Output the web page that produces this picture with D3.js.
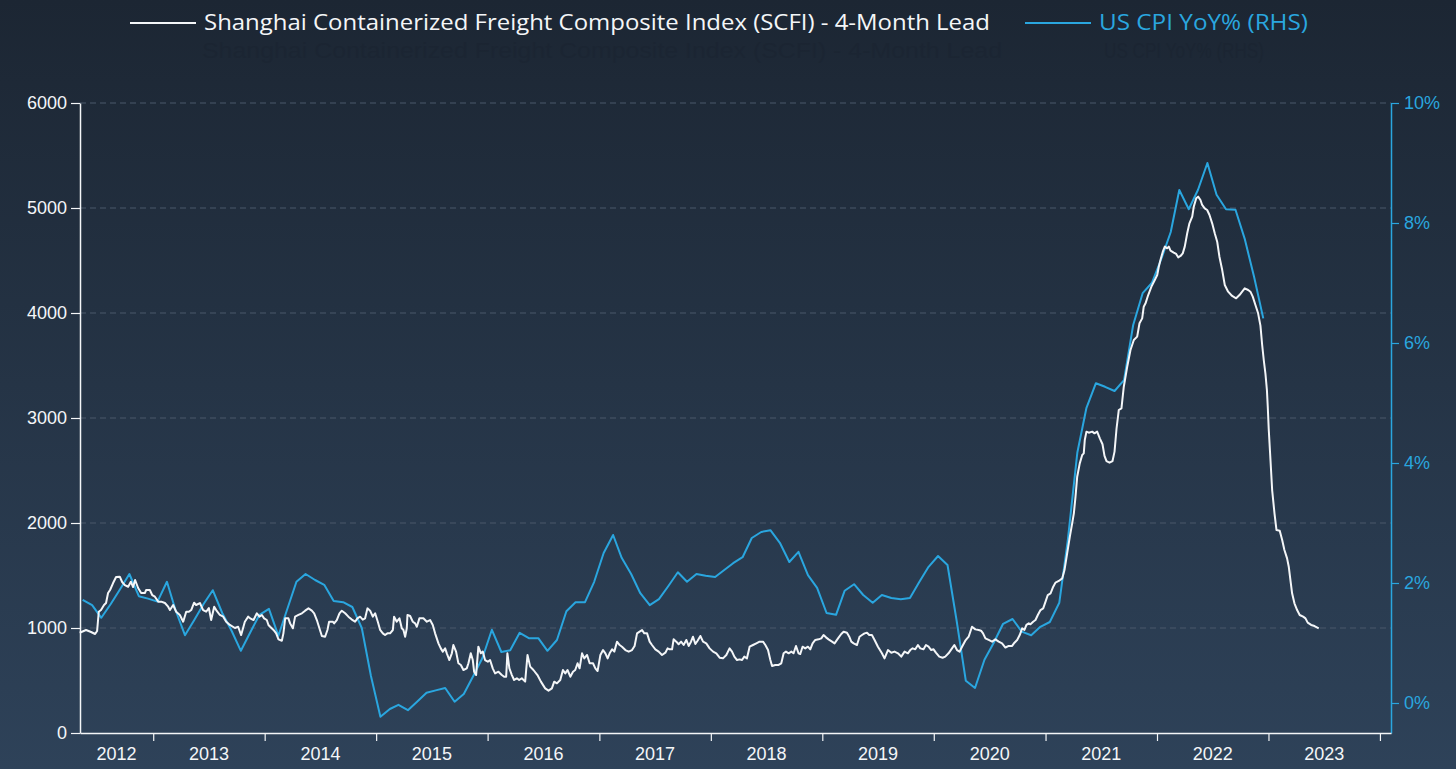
<!DOCTYPE html>
<html><head><meta charset="utf-8">
<script src="https://cdn.jsdelivr.net/npm/d3@7"></script>
<style>html,body{margin:0;padding:0;background:#1e2937;overflow:hidden}</style>
</head><body><svg id="c" width="1456" height="769"></svg>
<script>
// ---------------- DATA ----------------
const legendLabels = ["Shanghai Containerized Freight Composite Index (SCFI) - 4-Month Lead", "US CPI YoY% (RHS)"];
const yearLabels = ["2012","2013","2014","2015","2016","2017","2018","2019","2020","2021","2022","2023"];
const leftTicks = [0,1000,2000,3000,4000,5000,6000];
const rightTicks = [0,2,4,6,8,10];

// US CPI YoY %, monthly, May 2012 .. Dec 2022
const cpiStartMonth = "2012-05";
const cpiValues = [
  1.72,1.63,1.42,1.65,1.9,2.15,1.78,1.74,                 // 2012 May-Dec
  1.69,2.02,1.55,1.13,1.38,1.65,1.88,1.5,1.2,0.87,1.18,1.47, // 2013
  1.57,1.12,1.55,2.02,2.15,2.05,1.97,1.7,1.68,1.6,1.25,0.45, // 2014
  -0.23,-0.1,-0.03,-0.12,0.02,0.17,0.21,0.25,0.02,0.15,0.45,0.75, // 2015
  1.22,0.85,0.88,1.17,1.08,1.08,0.87,1.05,1.53,1.68,1.68,2.02, // 2016
  2.5,2.8,2.42,2.15,1.83,1.63,1.73,1.95,2.18,2.02,2.15,2.12,   // 2017
  2.1,2.22,2.33,2.43,2.75,2.85,2.88,2.67,2.35,2.52,2.13,1.92,  // 2018
  1.5,1.47,1.87,1.98,1.8,1.67,1.8,1.75,1.73,1.75,2.02,2.27,    // 2019
  2.45,2.3,1.4,0.37,0.25,0.72,1.0,1.32,1.4,1.19,1.13,1.27,     // 2020
  1.35,1.67,2.72,4.17,4.92,5.33,5.27,5.2,5.38,6.3,6.83,7.0,    // 2021
  7.4,7.85,8.55,8.23,8.55,9.0,8.47,8.23,8.22,7.74,7.1,6.41     // 2022
];

// SCFI (shifted 4 months forward): [decimal year, index value]
const scfiPoints = [
[2012.342,955],[2012.399,981],[2012.444,962],[2012.480,943],[2012.498,971],[2012.513,1155],[2012.533,1171],[2012.560,1219],[2012.578,1238],[2012.596,1333],[2012.614,1362],[2012.641,1428],[2012.668,1486],[2012.701,1489],[2012.722,1438],[2012.746,1409],[2012.776,1393],[2012.800,1441],[2012.820,1390],[2012.838,1457],[2012.865,1381],[2012.892,1333],[2012.925,1333],[2012.937,1362],[2012.970,1362],[2012.991,1314],
[2013.015,1298],[2013.045,1251],[2013.072,1251],[2013.105,1238],[2013.134,1203],[2013.150,1171],[2013.179,1219],[2013.206,1155],[2013.239,1124],[2013.269,1060],[2013.296,1155],[2013.320,1155],[2013.341,1171],[2013.367,1241],[2013.385,1219],[2013.419,1238],[2013.448,1171],[2013.475,1155],[2013.499,1190],[2013.520,1076],[2013.547,1203],[2013.565,1171],[2013.598,1124],[2013.628,1108],[2013.655,1060],[2013.688,1029],[2013.733,1000],[2013.762,1012],[2013.789,933],[2013.822,1060],[2013.852,1108],[2013.870,1092],[2013.900,1076],[2013.930,1140],[2013.953,1108],[2013.975,1124],[2013.995,1092],
[2014.019,1076],[2014.034,1029],[2014.049,1012],[2014.079,981],[2014.103,949],[2014.124,892],[2014.154,879],[2014.168,949],[2014.184,1092],[2014.213,1092],[2014.228,1044],[2014.253,997],[2014.273,1108],[2014.303,1124],[2014.334,1140],[2014.363,1165],[2014.393,1187],[2014.423,1165],[2014.444,1140],[2014.468,1076],[2014.491,997],[2014.513,924],[2014.542,917],[2014.563,981],[2014.578,1060],[2014.611,1060],[2014.623,1044],[2014.647,1076],[2014.671,1140],[2014.692,1165],[2014.722,1140],[2014.751,1108],[2014.782,1080],[2014.811,1060],[2014.832,1092],[2014.856,1108],[2014.880,1080],[2014.901,1092],[2014.922,1187],[2014.946,1165],[2014.970,1108],[2014.991,1140],
[2015.015,1060],[2015.036,981],[2015.060,949],[2015.080,933],[2015.101,949],[2015.125,949],[2015.150,981],[2015.161,1108],[2015.185,1060],[2015.209,1092],[2015.230,997],[2015.245,981],[2015.260,917],[2015.275,997],[2015.281,1124],[2015.305,1114],[2015.329,1060],[2015.350,1044],[2015.365,1012],[2015.388,1092],[2015.424,1092],[2015.455,1060],[2015.484,1076],[2015.508,1029],[2015.529,949],[2015.559,854],[2015.580,806],[2015.598,775],[2015.619,806],[2015.634,759],[2015.657,695],[2015.679,759],[2015.693,838],[2015.717,775],[2015.738,664],[2015.760,648],[2015.783,600],[2015.813,616],[2015.828,664],[2015.849,759],[2015.867,695],[2015.879,584],[2015.897,552],[2015.917,822],[2015.939,759],[2015.957,775],[2015.977,695],
[2016.002,679],[2016.022,695],[2016.046,616],[2016.067,568],[2016.097,584],[2016.127,552],[2016.148,536],[2016.166,536],[2016.177,759],[2016.195,616],[2016.217,552],[2016.237,505],[2016.262,521],[2016.282,505],[2016.306,521],[2016.336,489],[2016.357,743],[2016.381,632],[2016.410,600],[2016.446,552],[2016.477,489],[2016.515,425],[2016.545,403],[2016.575,425],[2016.596,489],[2016.620,473],[2016.650,505],[2016.674,600],[2016.695,568],[2016.715,600],[2016.740,536],[2016.764,584],[2016.784,600],[2016.805,664],[2016.823,616],[2016.845,759],[2016.865,711],[2016.890,743],[2016.913,664],[2016.943,664],[2016.964,616],[2016.984,590],
[2017.009,743],[2017.033,790],[2017.054,759],[2017.074,711],[2017.092,759],[2017.114,797],[2017.134,775],[2017.158,870],[2017.182,838],[2017.203,822],[2017.233,790],[2017.263,775],[2017.293,790],[2017.316,829],[2017.338,949],[2017.361,965],[2017.383,981],[2017.403,949],[2017.428,949],[2017.451,870],[2017.472,838],[2017.502,797],[2017.532,775],[2017.562,743],[2017.592,765],[2017.612,806],[2017.630,797],[2017.652,797],[2017.666,892],[2017.690,870],[2017.711,845],[2017.733,870],[2017.756,838],[2017.780,886],[2017.801,829],[2017.822,870],[2017.840,917],[2017.861,848],[2017.881,879],[2017.906,924],[2017.930,870],[2017.959,854],[2017.989,806],
[2018.020,775],[2018.049,759],[2018.079,717],[2018.109,711],[2018.139,743],[2018.168,806],[2018.190,775],[2018.211,727],[2018.235,695],[2018.258,701],[2018.280,695],[2018.300,727],[2018.324,711],[2018.348,822],[2018.378,838],[2018.408,854],[2018.437,870],[2018.468,870],[2018.489,838],[2018.513,790],[2018.534,695],[2018.549,638],[2018.578,648],[2018.608,648],[2018.632,664],[2018.653,759],[2018.674,775],[2018.698,759],[2018.722,775],[2018.742,759],[2018.764,829],[2018.787,759],[2018.802,752],[2018.823,822],[2018.847,806],[2018.871,822],[2018.892,797],[2018.913,854],[2018.937,886],[2018.967,892],[2018.991,901],
[2019.011,933],[2019.033,911],[2019.056,892],[2019.087,870],[2019.110,854],[2019.141,901],[2019.170,943],[2019.191,965],[2019.221,955],[2019.242,917],[2019.260,870],[2019.281,854],[2019.311,838],[2019.334,917],[2019.356,933],[2019.379,949],[2019.401,955],[2019.421,933],[2019.445,933],[2019.469,886],[2019.499,822],[2019.535,759],[2019.558,711],[2019.589,790],[2019.619,765],[2019.648,775],[2019.679,759],[2019.708,727],[2019.738,775],[2019.768,759],[2019.789,790],[2019.810,806],[2019.834,797],[2019.858,838],[2019.879,806],[2019.908,797],[2019.930,838],[2019.953,822],[2019.977,790],[2019.998,797],
[2020.019,765],[2020.049,727],[2020.079,717],[2020.103,727],[2020.132,759],[2020.163,806],[2020.184,838],[2020.208,790],[2020.231,775],[2020.253,822],[2020.282,879],[2020.312,917],[2020.342,1012],[2020.372,987],[2020.402,981],[2020.423,974],[2020.441,949],[2020.462,901],[2020.491,886],[2020.522,870],[2020.551,892],[2020.581,870],[2020.611,854],[2020.641,814],[2020.671,829],[2020.701,829],[2020.722,860],[2020.746,886],[2020.769,933],[2020.791,997],[2020.811,981],[2020.829,1029],[2020.850,1044],[2020.865,1035],[2020.889,1060],[2020.910,1076],[2020.931,1124],[2020.955,1171],[2020.979,1187],
[2021.000,1251],[2021.020,1314],[2021.045,1330],[2021.069,1393],[2021.089,1432],[2021.119,1448],[2021.150,1473],[2021.170,1552],[2021.194,1711],[2021.218,1870],[2021.239,1997],[2021.254,2092],[2021.269,2251],[2021.284,2441],[2021.307,2568],[2021.329,2648],[2021.343,2663],[2021.352,2790],[2021.367,2870],[2021.388,2860],[2021.419,2870],[2021.439,2854],[2021.463,2870],[2021.487,2806],[2021.511,2750],[2021.529,2640],[2021.547,2590],[2021.574,2575],[2021.601,2590],[2021.619,2680],[2021.637,2900],[2021.657,3076],[2021.681,3092],[2021.702,3298],[2021.733,3489],[2021.762,3648],[2021.792,3743],[2021.822,3775],[2021.843,3902],[2021.867,3949],[2021.881,4060],[2021.897,4092],[2021.921,4171],[2021.950,4251],[2021.980,4314],
[2022.002,4362],[2022.016,4441],[2022.031,4505],[2022.052,4584],[2022.070,4632],[2022.091,4616],[2022.106,4632],[2022.121,4594],[2022.150,4575],[2022.172,4562],[2022.190,4530],[2022.211,4543],[2022.231,4568],[2022.249,4632],[2022.271,4759],[2022.291,4854],[2022.316,4917],[2022.330,5013],[2022.352,5092],[2022.369,5108],[2022.390,5076],[2022.405,5029],[2022.428,4997],[2022.450,4981],[2022.471,4933],[2022.495,4854],[2022.518,4759],[2022.540,4679],[2022.560,4536],[2022.585,4409],[2022.608,4267],[2022.638,4203],[2022.674,4162],[2022.710,4140],[2022.740,4171],[2022.764,4203],[2022.787,4235],[2022.818,4219],[2022.838,4203],[2022.859,4156],[2022.883,4076],[2022.907,3997],[2022.928,3880],[2022.943,3700],[2022.958,3550],[2022.973,3420],[2022.986,3267],[2022.994,3100],
[2023.002,2900],[2023.018,2600],[2023.033,2314],[2023.054,2092],[2023.072,1933],[2023.101,1927],[2023.123,1838],[2023.143,1743],[2023.167,1663],[2023.182,1584],[2023.197,1457],[2023.212,1330],[2023.233,1235],[2023.257,1171],[2023.280,1124],[2023.311,1108],[2023.332,1092],[2023.352,1051],[2023.383,1029],[2023.413,1019],[2023.451,997]
];

// ---------------- CHART ----------------
const W = 1456, H = 769;
const plot = {left: 80, right: 1391, top: 103, bottom: 733};
const WHITE = "#f4f6f8", BLUE = "#2aa6df", GRID = "#4a586a";

function fromDecimal(t){
  const y = Math.floor(t);
  const a = Date.UTC(y,0,1), b = Date.UTC(y+1,0,1);
  return new Date(a + (t - y) * (b - a));
}

const svg = d3.select("#c");
const defs = svg.append("defs");
const grad = defs.append("linearGradient").attr("id","bg").attr("x1",0).attr("y1",0).attr("x2",0).attr("y2",1);
grad.append("stop").attr("offset","0%").attr("stop-color","#1c2633");
grad.append("stop").attr("offset","100%").attr("stop-color","#2e4259");
svg.append("rect").attr("width",W).attr("height",H).attr("fill","url(#bg)");

const x = d3.scaleUtc().domain([fromDecimal(2012.345), fromDecimal(2024.099)]).range([plot.left, plot.right]);
const yL = d3.scaleLinear().domain([0,6000]).range([plot.bottom, plot.top]);
const yR = d3.scaleLinear().domain([-0.5,10]).range([plot.bottom, plot.top]);

// gridlines
svg.append("g").selectAll("line").data(leftTicks.filter(d => d > 0)).join("line")
  .attr("x1", plot.left).attr("x2", plot.right)
  .attr("y1", d => yL(d)).attr("y2", d => yL(d))
  .attr("stroke", GRID).attr("stroke-width", 1).attr("stroke-dasharray","6,4");

// faint ghost reflection of the legend (as in the reference image)
const ghost = svg.append("g").attr("opacity",0.1);
ghost.append("text").attr("x",202).attr("y",58).attr("font-family","Liberation Sans, Arial, sans-serif").attr("font-size",22)
  .attr("fill","#0c121a").attr("textLength",800).attr("lengthAdjust","spacingAndGlyphs").text(legendLabels[0]);
ghost.append("text").attr("x",1104).attr("y",58).attr("font-family","Liberation Sans, Arial, sans-serif").attr("font-size",22)
  .attr("fill","#0c121a").attr("textLength",160).attr("lengthAdjust","spacingAndGlyphs").text(legendLabels[1]);

// left axis
const axL = svg.append("g").attr("transform",`translate(${plot.left},0)`)
  .call(d3.axisLeft(yL).tickValues(leftTicks).tickSize(9).tickSizeOuter(0).tickPadding(4).tickFormat(d3.format("d")));
axL.select(".domain").attr("stroke", WHITE).attr("stroke-width",1.5);
axL.selectAll(".tick line").attr("stroke", WHITE).attr("stroke-width",1.2);
axL.selectAll(".tick text").attr("fill", WHITE).attr("font-family","Liberation Sans, Arial, sans-serif").attr("font-size",18);

// right axis
const axR = svg.append("g").attr("transform",`translate(${plot.right},0)`)
  .call(d3.axisRight(yR).tickValues(rightTicks).tickSize(8).tickSizeOuter(0).tickPadding(5).tickFormat(d => d + "%"));
axR.select(".domain").attr("stroke", BLUE).attr("stroke-width",1.5);
axR.selectAll(".tick line").attr("stroke", BLUE).attr("stroke-width",1.2);
axR.selectAll(".tick text").attr("fill", BLUE).attr("font-family","Liberation Sans, Arial, sans-serif").attr("font-size",18);

// bottom axis
const yearTicks = d3.range(2013, 2025).map(y => new Date(Date.UTC(y,0,1)));
const axB = svg.append("g").attr("transform",`translate(0,${plot.bottom})`)
  .call(d3.axisBottom(x).tickValues(yearTicks).tickSize(8).tickSizeOuter(0).tickFormat(""));
axB.select(".domain").attr("stroke", WHITE).attr("stroke-width",1.5);
axB.selectAll(".tick line").attr("stroke", WHITE).attr("stroke-width",1.2);
const [d0, d1] = x.domain();
svg.append("g").selectAll("text").data(yearLabels).join("text")
  .attr("x", d => {
    const y = +d;
    const a = new Date(Math.max(+d0, Date.UTC(y,0,1)));
    const b = new Date(Math.min(+d1, Date.UTC(y+1,0,1)));
    return (x(a) + x(b)) / 2;
  })
  .attr("y", 760).attr("text-anchor","middle")
  .attr("fill", WHITE).attr("font-family","Liberation Sans, Arial, sans-serif").attr("font-size",18)
  .text(d => d);

// CPI line
const cpi0 = d3.utcParse("%Y-%m")(cpiStartMonth);
const cpiData = cpiValues.map((v,i) => ({date: d3.utcDay.offset(d3.utcMonth.offset(cpi0, i), 14), v}));
svg.append("path").datum(cpiData)
  .attr("fill","none").attr("stroke", BLUE).attr("stroke-width",2).attr("stroke-linejoin","round")
  .attr("d", d3.line().x(d => x(d.date)).y(d => yR(d.v)));

// SCFI line
const scfiData = scfiPoints.map(([t,v]) => ({date: fromDecimal(t), v}));
svg.append("path").datum(scfiData)
  .attr("fill","none").attr("stroke", WHITE).attr("stroke-width",2).attr("stroke-linejoin","round")
  .attr("d", d3.line().x(d => x(d.date)).y(d => yL(d.v)));

// legend
const lg = svg.append("g");
lg.append("line").attr("x1",130).attr("x2",196).attr("y1",23).attr("y2",23).attr("stroke",WHITE).attr("stroke-width",2);
lg.append("text").attr("x",204).attr("y",30).attr("font-family","Open Sans, sans-serif").attr("font-size",22)
  .attr("fill",WHITE).attr("textLength",786).attr("lengthAdjust","spacingAndGlyphs").text(legendLabels[0]);
lg.append("line").attr("x1",1025).attr("x2",1091).attr("y1",23).attr("y2",23).attr("stroke",BLUE).attr("stroke-width",2);
lg.append("text").attr("x",1099).attr("y",30).attr("font-family","Open Sans, sans-serif").attr("font-size",22)
  .attr("fill",BLUE).attr("textLength",209).attr("lengthAdjust","spacingAndGlyphs").text(legendLabels[1]);
</script>
</body></html>
